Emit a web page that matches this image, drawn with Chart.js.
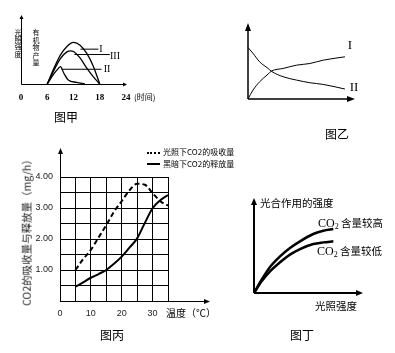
<!DOCTYPE html>
<html lang="zh">
<head>
<meta charset="utf-8">
<title>图甲 图乙 图丙 图丁</title>
<script src="https://cdn.jsdelivr.net/npm/chart.js@4.4.1/dist/chart.umd.min.js"></script>
<style>
  html, body { margin: 0; padding: 0; background: #fff; }
  #page { position: relative; width: 395px; height: 353px; overflow: hidden;
          font-family: "Noto Sans CJK SC", sans-serif; color: #000; }
  #page canvas { position: absolute; left: 0; top: 0; }
  .t { position: absolute; white-space: nowrap; line-height: 1; }
  .c { transform: translate(-50%, -50%); }
  .l { transform: translate(0, -50%); }
  .roman { font-family: "Liberation Serif", serif; }
  .cap { font-size: 12px; }
  .stack { position: absolute; width: 8px; white-space: normal; word-break: break-all;
           text-align: center; font-size: 7px; }
</style>
</head>
<body>
<div id="page">
  <canvas id="chartJia" width="395" height="353"></canvas>
  <canvas id="chartYi" width="395" height="353"></canvas>
  <canvas id="chartBing" width="395" height="353"></canvas>
  <canvas id="chartDing" width="395" height="353"></canvas>

  <!-- 图甲 -->
  <div class="stack" style="left:14px; top:29px; line-height:7.2px;">光照强度</div>
  <div class="stack" style="left:32px; top:29px; line-height:7.6px;">有机物产量</div>
  <div class="t roman c" style="left:101px; top:49px; font-size:10px;">I</div>
  <div class="t roman c" style="left:115px; top:56px; font-size:10px;">III</div>
  <div class="t roman c" style="left:107px; top:69px; font-size:10px;">II</div>
  <div class="t l" style="left:134px; top:97px; font-size:8px;">(时间)</div>
  <div class="t c cap" style="left:66px; top:117px;">图甲</div>

  <!-- 图乙 -->
  <div class="t roman c" style="left:350px; top:44px; font-size:13px;">I</div>
  <div class="t roman c" style="left:354px; top:86px; font-size:13px;">II</div>
  <div class="t c cap" style="left:337px; top:134px;">图乙</div>

  <!-- 图丙 -->
  <div class="t" style="left:147px; top:152px; width:13px; border-top:2px dotted #000;"></div>
  <div class="t l" style="left:163px; top:152px; font-size:8px;">光照下CO2的吸收量</div>
  <div class="t" style="left:147px; top:163px; width:13px; border-top:2px solid #000;"></div>
  <div class="t l" style="left:163px; top:164px; font-size:8px;">黑暗下CO2的释放量</div>
  <div class="t c" style="left:27px; top:230px; font-size:10.5px; color:#222; transform: translate(-50%, -50%) rotate(-90deg);">CO2的吸收量与释放量（mg/h）</div>
  <div class="t l" style="left:166px; top:313px; font-size:10px;">温度（℃）</div>
  <div class="t c cap" style="left:112px; top:335px;">图丙</div>

  <!-- 图丁 -->
  <div class="t l" style="left:260px; top:203px; font-size:10.5px;">光合作用的强度</div>
  <div class="t l" style="left:318px; top:223px; font-size:10.5px;"><span class="roman" style="font-size:12px;">CO<span style="font-size:8px; position:relative; top:2px;">2</span></span> 含量较高</div>
  <div class="t l" style="left:317px; top:251px; font-size:10.5px;"><span class="roman" style="font-size:12px;">CO<span style="font-size:8px; position:relative; top:2px;">2</span></span> 含量较低</div>
  <div class="t l" style="left:315px; top:306px; font-size:10.5px;">光照强度</div>
  <div class="t c cap" style="left:302px; top:335px;">图丁</div>
</div>

<script>
// 图甲：光照强度与有机物产量（时间）
const jiaTicks = [0, 6, 12, 18, 24];
const jiaHoursI = [6, 7.5, 9, 10.5, 12, 13.5, 15, 16.5, 18];
const jiaCurveI = [0, 2.3, 4.3, 5.6, 6.2, 5.8, 4.6, 2.7, 0];
const jiaHoursIII = [6, 7.5, 9, 10.5, 11.3, 12, 13.5, 15, 16.5, 18];
const jiaCurveIII = [0, 2.0, 3.8, 4.8, 4.95, 4.85, 3.9, 2.4, 1.1, 0];
const jiaHoursII = [6, 7.5, 8.5, 9, 9.8, 10.8, 12.7, 14.6];
const jiaCurveII = [0, 1.5, 2.3, 2.6, 1.6, 0.6, 0.25, 0];
// leader lines to the labels I, III, II
const jiaLeadIx = [13.6, 17.7];
const jiaLeadIy = [5.2, 5.2];
const jiaLeadIIIx = [12.2, 20.3];
const jiaLeadIIIy = [4.4, 4.4];
const jiaLeadIIx = [9.3, 18.4];
const jiaLeadIIy = [2.2, 2.2];

// 图乙
const yiX = [0, 0.47, 1.09, 1.88, 2.19, 3.28, 4.53, 5.78, 7.03, 9.06];
const yiCurveI = [0, 1.18, 2.27, 3.28, 3.67, 4.02, 4.45, 4.67, 5.11, 5.55];
const yiCurveII = [6.77, 6.0, 4.89, 4.02, 3.65, 2.93, 2.49, 2.14, 1.92, 1.31];

// 图丙：温度与CO2的吸收量/释放量 (mg/h)
const bingTemp = [5, 7.5, 10, 12.5, 15, 17.5, 20, 22.5, 25, 27.5, 30, 32.5, 35];
const bingAbsorb = [1.0, 1.35, 1.65, 2.05, 2.45, 2.88, 3.22, 3.57, 3.78, 3.75, 3.48, 3.22, 3.08];
const bingRelease = [0.46, 0.6, 0.75, 0.87, 1.0, 1.2, 1.43, 1.72, 2.02, 2.52, 2.99, 3.25, 3.42];
const bingXLabels = [0, 10, 20, 30];
const bingYLabels = [1, 2, 3, 4];

// 图丁：光照强度与光合作用的强度
const dingLight = [0, 0.7, 1.47, 2.39, 3.3, 4.22, 5.44, 6.36, 7.28];
const dingHigh = [0, 1.4, 2.74, 3.86, 4.74, 5.44, 6.21, 6.56, 6.74];
const dingLow = [0, 1.23, 2.28, 3.23, 4.04, 4.63, 5.16, 5.33, 5.44];

// draws the two axis lines with arrow heads
const axisArrows = {
    id: 'axisArrows',
    afterDatasetsDraw(chart, args, o) {
        if (!o || !o.width) return;
        const ctx = chart.ctx;
        const a = chart.chartArea;
        const off = o.width % 2 === 1 ? 0.5 : 0;
        const x0 = Math.round(a.left) + off;
        const y0 = Math.round(a.bottom) + off;
        const xEnd = a.right + (o.extendX || 0);
        const yEnd = a.top - (o.extendY || 0);
        ctx.save();
        ctx.strokeStyle = '#000';
        ctx.fillStyle = '#000';
        ctx.lineWidth = o.width;
        ctx.beginPath();
        ctx.moveTo(x0, y0);
        ctx.lineTo(x0, yEnd + o.head / 2);
        ctx.moveTo(x0, y0);
        ctx.lineTo(xEnd - o.head / 2, y0);
        ctx.stroke();
        ctx.beginPath();
        ctx.moveTo(x0, yEnd);
        ctx.lineTo(x0 - o.half, yEnd + o.head);
        ctx.lineTo(x0 + o.half, yEnd + o.head);
        ctx.closePath();
        ctx.fill();
        ctx.beginPath();
        ctx.moveTo(xEnd, y0);
        ctx.lineTo(xEnd - o.head, y0 - o.half);
        ctx.lineTo(xEnd - o.head, y0 + o.half);
        ctx.closePath();
        ctx.fill();
        ctx.restore();
    }
};
Chart.register(axisArrows);

function curve(xs, ys, width, dash, smooth) {
    return {
        data: xs.map((x, i) => ({ x: x, y: ys[i] })),
        borderColor: '#000',
        borderWidth: width,
        borderDash: dash || [],
        pointRadius: 0,
        fill: false,
        clip: false,
        cubicInterpolationMode: smooth === false ? 'default' : 'monotone',
        tension: 0
    };
}

// area = wanted plot box in page pixels; yW / xH = room kept for tick labels
function baseOptions(area, arrows, yW, xH) {
    return {
        responsive: false,
        animation: false,
        events: [],
        layout: {
            padding: {
                left: area.left - (yW || 0),
                top: area.top,
                right: 395 - area.right,
                bottom: 353 - area.bottom - (xH || 0)
            }
        },
        plugins: {
            legend: { display: false },
            tooltip: { enabled: false },
            axisArrows: arrows
        }
    };
}

const hidden = { display: false, grid: { display: false, drawTicks: false }, border: { display: false } };

// 图甲
const jiaOpts = baseOptions({ left: 21, right: 126, top: 17, bottom: 84 },
    { width: 1, head: 4, half: 2, extendX: 1, extendY: 2 }, 0, 20);
jiaOpts.scales = {
    x: {
        type: 'linear', min: 0, max: 24,
        afterFit: s => { s.height = 20; },
        afterBuildTicks: s => { s.ticks = jiaTicks.map(v => ({ value: v })); },
        grid: { display: false, drawTicks: false },
        border: { display: false },
        ticks: {
            padding: 8, autoSkip: false, maxRotation: 0, color: '#000',
            font: { family: 'Liberation Serif', size: 9, weight: 'bold' }
        }
    },
    y: Object.assign({ min: 0, max: 10 }, hidden)
};
new Chart(document.getElementById('chartJia'), {
    type: 'line',
    data: {
        datasets: [
            curve(jiaHoursI, jiaCurveI, 1.3),
            curve(jiaHoursIII, jiaCurveIII, 1.3),
            curve(jiaHoursII, jiaCurveII, 1.3),
            curve(jiaLeadIx, jiaLeadIy, 1, null, false),
            curve(jiaLeadIIIx, jiaLeadIIIy, 1, null, false),
            curve(jiaLeadIIx, jiaLeadIIy, 1, null, false)
        ]
    },
    options: jiaOpts
});

// 图乙
const yiOpts = baseOptions({ left: 248, right: 355, top: 23, bottom: 99 },
    { width: 1.5, head: 8, half: 3 });
yiOpts.scales = {
    x: Object.assign({ type: 'linear', min: 0, max: 10 }, hidden),
    y: Object.assign({ min: 0, max: 10 }, hidden)
};
new Chart(document.getElementById('chartYi'), {
    type: 'line',
    data: {
        datasets: [
            curve(yiX, yiCurveI, 1),
            curve(yiX, yiCurveII, 1)
        ]
    },
    options: yiOpts
});

// 图丙
const bingTickFont = { family: 'Liberation Sans', size: 9 };
const bingOpts = baseOptions({ left: 60, right: 168, top: 177, bottom: 301 },
    { width: 1, head: 6, half: 2.5, extendX: 42, extendY: 29 }, 40, 20);
bingOpts.scales = {
    x: {
        type: 'linear', min: 0, max: 35,
        afterFit: s => { s.height = 20; },
        grid: { color: '#000', lineWidth: 1, drawTicks: false },
        border: { color: '#000', width: 1 },
        ticks: {
            stepSize: 5, autoSkip: false, maxRotation: 0, padding: 7, color: '#222', font: bingTickFont,
            callback: v => bingXLabels.includes(v) ? String(v) : ''
        }
    },
    y: {
        min: 0, max: 4,
        afterFit: s => { s.width = 40; },
        grid: { color: '#000', lineWidth: 1, drawTicks: false },
        border: { color: '#000', width: 1 },
        ticks: {
            stepSize: 0.5, autoSkip: false, padding: 7, color: '#222', font: bingTickFont,
            callback: v => bingYLabels.includes(v) ? v.toFixed(2) : ''
        }
    }
};
new Chart(document.getElementById('chartBing'), {
    type: 'line',
    data: {
        datasets: [
            curve(bingTemp, bingAbsorb, 2, [5, 3]),
            curve(bingTemp, bingRelease, 2)
        ]
    },
    options: bingOpts
});

// 图丁
const dingOpts = baseOptions({ left: 254, right: 363, top: 198, bottom: 293 },
    { width: 2, head: 7, half: 3 });
dingOpts.scales = {
    x: Object.assign({ type: 'linear', min: 0, max: 10 }, hidden),
    y: Object.assign({ min: 0, max: 10 }, hidden)
};
new Chart(document.getElementById('chartDing'), {
    type: 'line',
    data: {
        datasets: [
            curve(dingLight, dingHigh, 2.5),
            curve(dingLight, dingLow, 2.5)
        ]
    },
    options: dingOpts
});
</script>
</body>
</html>
